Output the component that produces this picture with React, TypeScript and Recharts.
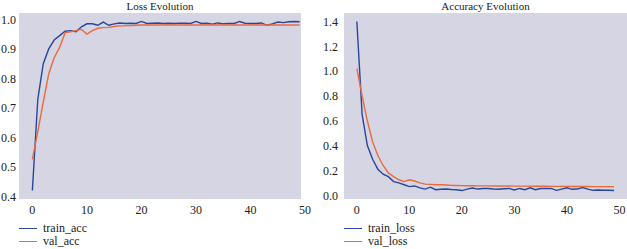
import { LineChart, Line, XAxis, YAxis } from 'recharts'

const epochs = Array.from({ length: 50 }, (_, i) => i)

const trainAcc = [
  0.42, 0.73, 0.85, 0.9, 0.93, 0.945, 0.96, 0.962, 0.958, 0.975,
  0.985, 0.985, 0.98, 0.991, 0.98, 0.985, 0.988, 0.986, 0.987, 0.986,
  0.993, 0.986, 0.987, 0.988, 0.986, 0.987, 0.986, 0.987, 0.987, 0.986,
  0.993, 0.986, 0.987, 0.984, 0.988, 0.985, 0.986, 0.986, 0.993, 0.987,
  0.986, 0.986, 0.988, 0.98, 0.985, 0.991, 0.989, 0.992, 0.993, 0.992,
]
const valAcc = [
  0.525, 0.62, 0.72, 0.815, 0.87, 0.905, 0.955, 0.958, 0.962, 0.966,
  0.95, 0.962, 0.97, 0.972, 0.973, 0.976, 0.978, 0.978, 0.979, 0.98,
  0.981, 0.981, 0.981, 0.981, 0.981, 0.981, 0.981, 0.981, 0.981, 0.981,
  0.981, 0.981, 0.981, 0.981, 0.981, 0.981, 0.981, 0.981, 0.981, 0.981,
  0.981, 0.981, 0.981, 0.981, 0.981, 0.981, 0.981, 0.981, 0.981, 0.981,
]
const trainLoss = [
  1.4, 0.65, 0.4, 0.29, 0.21, 0.17, 0.15, 0.11, 0.1, 0.085,
  0.07, 0.075, 0.06, 0.05, 0.065, 0.045, 0.048, 0.05, 0.047, 0.045,
  0.038, 0.05, 0.058, 0.05, 0.055, 0.055, 0.05, 0.048, 0.052, 0.055,
  0.043, 0.055, 0.045, 0.06, 0.045, 0.055, 0.055, 0.055, 0.04, 0.05,
  0.06, 0.048, 0.05, 0.062, 0.05, 0.04, 0.042, 0.04, 0.04, 0.038,
]
const valLoss = [
  1.02, 0.8, 0.6, 0.43, 0.32, 0.24, 0.18, 0.15, 0.125, 0.11,
  0.125, 0.115, 0.1, 0.09, 0.088, 0.085, 0.085, 0.083, 0.08, 0.079,
  0.078, 0.077, 0.077, 0.076, 0.076, 0.076, 0.075, 0.075, 0.075, 0.075,
  0.074, 0.074, 0.074, 0.074, 0.073, 0.073, 0.073, 0.072, 0.072, 0.072,
  0.072, 0.071, 0.071, 0.071, 0.071, 0.07, 0.07, 0.07, 0.07, 0.07,
]
const xTicks = [0, 10, 20, 30, 40, 50]
const accTicks = [0.4, 0.5, 0.6, 0.7, 0.8, 0.9, 1.0]
const lossTicks = [0, 0.2, 0.4, 0.6, 0.8, 1.0, 1.2, 1.4]

const BLUE = '#27479a'
const ORANGE = '#ea6a3c'
const BG = '#d5d5e4'
const FONT = '"Liberation Serif", "DejaVu Serif", serif'
const tick = { fontSize: 12, fill: '#222', fontFamily: FONT }

const accData = epochs.map(i => ({ epoch: i, train_acc: trainAcc[i], val_acc: valAcc[i] }))
const lossData = epochs.map(i => ({ epoch: i, train_loss: trainLoss[i], val_loss: valLoss[i] }))

function Panel({ left, width, yWidth, data, keys, domain, ticks, title, ySize }: any) {
  const plotW = width - yWidth - (left === 0 ? 12 : 0)
  return (
    <div style={{ position: 'absolute', left, top: 0, width, height: 249 }}>
      <LineChart width={width} height={249} data={data} margin={{ top: 13, right: 0, left: 0, bottom: 30 }}>
        <rect x={yWidth} y={13} width={plotW} height={186} fill={BG} />
        <XAxis dataKey="epoch" type="number" domain={[-2.45, 51.45]} ticks={xTicks} allowDataOverflow
          axisLine={false} tickLine={false} tickSize={4} tickMargin={2} height={20} tick={tick} />
        <YAxis type="number" domain={domain} ticks={ticks} allowDataOverflow width={yWidth}
          axisLine={false} tickLine={false} tickSize={ySize} tickMargin={2} tick={tick}
          tickFormatter={(v: number) => v.toFixed(1)} />
        <Line dataKey={keys[0]} stroke={BLUE} strokeWidth={1.4} dot={false} isAnimationActive={false} />
        <Line dataKey={keys[1]} stroke={ORANGE} strokeWidth={1.4} dot={false} isAnimationActive={false} />
      </LineChart>
      <div style={{ position: 'absolute', left: yWidth, width: plotW, top: 0, textAlign: 'center', fontFamily: FONT, fontSize: 11, lineHeight: '12px', color: '#222' }}>{title}</div>
      {keys.map((k: string, i: number) => (
        <div key={k} style={{ position: 'absolute', left: yWidth, top: 222 + i * 13, display: 'flex', alignItems: 'center', fontFamily: FONT, fontSize: 12, color: '#222', lineHeight: '13px' }}>
          <span style={{ width: 18, height: 1.5, background: i === 0 ? BLUE : ORANGE, display: 'inline-block', marginRight: 6 }} />
          {k}
        </div>
      ))}
    </div>
  )
}

export default function App() {
  return (
    <div style={{ position: 'absolute', left: 0, top: 0, width: 627, height: 249, background: '#fff', overflow: 'hidden' }}>
      <Panel left={0} width={313} yWidth={19} ySize={1} data={accData} keys={['train_acc', 'val_acc']}
        domain={[0.391, 1.0217]} ticks={accTicks} title="Loss Evolution" />
      <Panel left={313} width={314} yWidth={31} ySize={4} data={lossData} keys={['train_loss', 'val_loss']}
        domain={[-0.03, 1.468]} ticks={lossTicks} title="Accuracy Evolution" />
    </div>
  )
}
